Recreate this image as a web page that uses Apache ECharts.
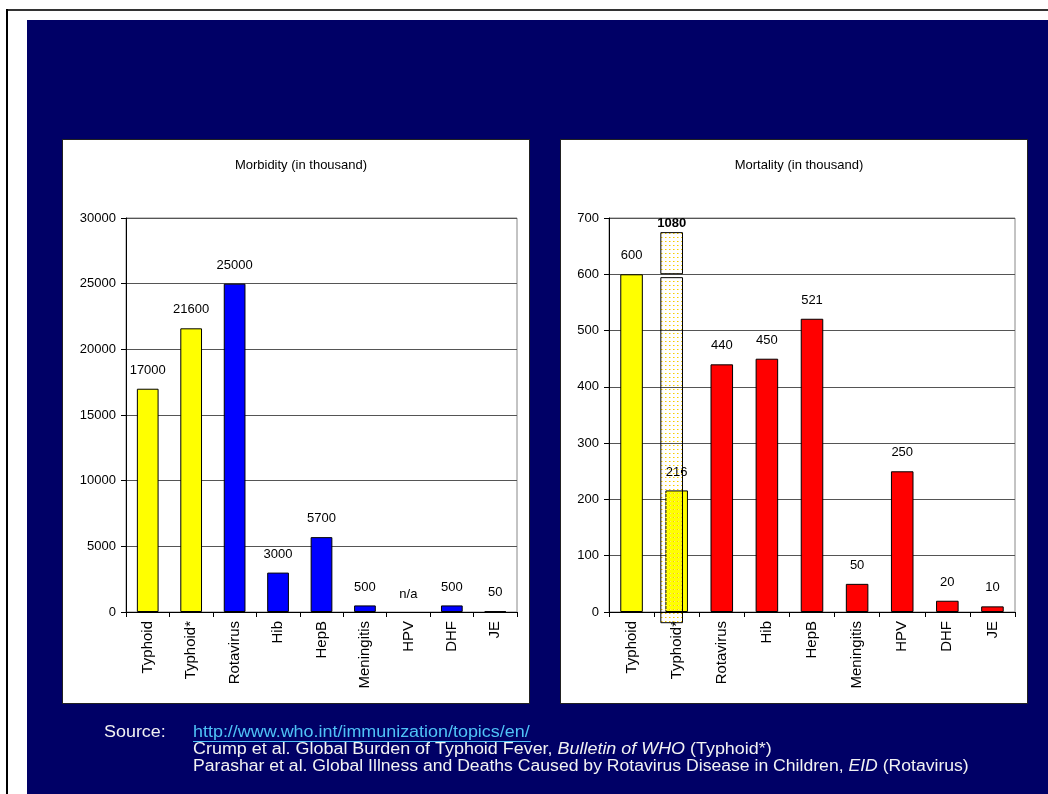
<!DOCTYPE html>
<html>
<head>
<meta charset="utf-8">
<script src="https://cdn.jsdelivr.net/npm/echarts@6/dist/echarts.min.js"></script>
<style>
html, body { margin: 0; padding: 0; background: #fff; }
#page { position: relative; width: 1048px; height: 794px; overflow: hidden; }
.frameTop { position: absolute; left: 6px; top: 9px; width: 1042px; height: 2px; background: #333; }
.frameLeft { position: absolute; left: 6px; top: 9px; width: 2px; height: 785px; background: #000; }
.navy { position: absolute; left: 27px; top: 20px; right: 0; bottom: 0; background: #000066; }
.panel { position: absolute; top: 139px; height: 565px; background: #fff; border: 1px solid #222; box-sizing: border-box; }
#main { position: absolute; left: 0; top: 0; width: 1048px; height: 794px; }
</style>
</head>
<body>
<div id="page">
  <div class="frameTop"></div>
  <div class="frameLeft"></div>
  <div class="navy"></div>
  <div class="panel" style="left:62px;width:468px;"></div>
  <div class="panel" style="left:560px;width:468px;"></div>
  <div id="main"></div>
</div>
<script>
var categories = ['Typhoid', 'Typhoid*', 'Rotavirus', 'Hib', 'HepB', 'Meningitis', 'HPV', 'DHF', 'JE'];
var morbidity = [17000, 21600, 25000, 3000, 5700, 500, null, 500, 50];
var mortality = [600, 216, 440, 450, 521, 50, 250, 20, 10];
var morbidityAxis = [0, 30000, 5000];
var mortalityAxis = [0, 700, 100];
// Typhoid* mortality (1080) is drawn as a broken, dotted bar
var typhoidStarTotal = 1080;
var typhoidStarPieces = [[-19, 594], [601, 674]];
var typhoidCats = ['Typhoid', 'Typhoid*'];

var FONT = 'Liberation Sans, Arial, sans-serif';

var dots = document.createElement('canvas');
dots.width = 4; dots.height = 4;
var dctx = dots.getContext('2d');
dctx.fillStyle = '#f5cc00';
dctx.fillRect(1, 1, 1, 1);
dctx.fillStyle = '#fbe680';
dctx.fillRect(2, 1, 1, 1);

function barData(values, otherColor) {
    return values.map(function (v, i) {
        var color = typhoidCats.indexOf(categories[i]) >= 0 ? '#ffff00' : otherColor;
        if (v === null) {
            return { value: 0, itemStyle: { color: 'transparent', borderWidth: 0 },
                     label: { formatter: 'n/a', distance: 11 } };
        }
        return { value: v, itemStyle: { color: color } };
    });
}

function xAxis(gridIndex) {
    return {
        type: 'category', gridIndex: gridIndex, data: categories,
        axisLine: { lineStyle: { color: '#000', width: 1 } },
        axisTick: { show: true, length: 5, lineStyle: { color: '#000' } },
        axisLabel: { rotate: 90, margin: 9, color: '#000', fontSize: 15, fontFamily: FONT, interval: 0 },
        splitLine: { show: false }
    };
}

function yAxis(gridIndex, range) {
    return {
        type: 'value', gridIndex: gridIndex, min: range[0], max: range[1], interval: range[2],
        axisLine: { show: true, lineStyle: { color: '#000', width: 1 } },
        axisTick: { show: true, length: 5, lineStyle: { color: '#000' } },
        axisLabel: { margin: 10, color: '#000', fontSize: 13, fontFamily: FONT,
                     formatter: function (v) { return String(v); } },
        splitLine: { show: true, lineStyle: { color: '#555', width: 1 } }
    };
}

var barLabel = { show: true, position: 'top', distance: 12, color: '#000', fontSize: 13, fontFamily: FONT };
var barStyle = { borderColor: '#000', borderWidth: 1 };
var srcFont = '16px ' + FONT;
var srcRich = { i: { fontStyle: 'italic', fontSize: 16, fontFamily: FONT, fill: '#f2f2f2' } };

var chart = echarts.init(document.getElementById('main'));
chart.setOption({
    animation: false,
    backgroundColor: 'transparent',
    title: [
        { text: 'Morbidity (in thousand)', left: 296, top: 154, textAlign: 'center',
          textStyle: { fontSize: 13, fontWeight: 'normal', color: '#000', fontFamily: FONT } },
        { text: 'Mortality (in thousand)', left: 794, top: 154, textAlign: 'center',
          textStyle: { fontSize: 13, fontWeight: 'normal', color: '#000', fontFamily: FONT } }
    ],
    grid: [
        { left: 126, top: 218, width: 391, height: 394, show: true, borderColor: '#888', borderWidth: 1, backgroundColor: 'transparent' },
        { left: 609, top: 218, width: 406, height: 394, show: true, borderColor: '#888', borderWidth: 1, backgroundColor: 'transparent' }
    ],
    xAxis: [xAxis(0), xAxis(1)],
    yAxis: [yAxis(0, morbidityAxis), yAxis(1, mortalityAxis)],
    series: [
        {
            type: 'bar', xAxisIndex: 0, yAxisIndex: 0, barWidth: '50%',
            data: barData(morbidity, '#0000ff'), itemStyle: barStyle, label: barLabel
        },
        {
            type: 'bar', xAxisIndex: 1, yAxisIndex: 1, barWidth: '50%',
            data: barData(mortality, '#ff0000'), itemStyle: barStyle, label: barLabel
        },
        {
            type: 'custom', xAxisIndex: 1, yAxisIndex: 1, clip: false, z: 5,
            data: typhoidStarPieces.map(function (p) { return [categories.indexOf('Typhoid*'), p[0], p[1]]; }),
            encode: { x: 0, y: [1, 2] },
            renderItem: function (params, api) {
                var top = api.coord([api.value(0), api.value(2)]);
                var bot = api.coord([api.value(0), api.value(1)]);
                var w = api.size([1, 0])[0] * 0.48;
                var cx = top[0] - 5;
                var kids = [{
                    type: 'rect',
                    shape: { x: cx - w / 2, y: top[1], width: w, height: bot[1] - top[1] },
                    style: { fill: { image: dots, repeat: 'repeat' }, stroke: '#000', lineWidth: 1 }
                }];
                if (params.dataIndex === typhoidStarPieces.length - 1) {
                    kids.push({
                        type: 'text',
                        style: { text: String(typhoidStarTotal), x: cx, y: top[1] - 3, align: 'center',
                                 verticalAlign: 'bottom', font: 'bold 13px ' + FONT, fill: '#000' }
                    });
                }
                return { type: 'group', children: kids };
            }
        }
    ],
    graphic: [
        { type: 'text', x: 104, y: 725, scaleX: 1.12,
          style: { text: 'Source:', font: srcFont, fill: '#f2f2f2' } },
        { type: 'text', x: 193, y: 725, scaleX: 1.12,
          style: { text: 'http://www.who.int/immunization/topics/en/', font: srcFont, fill: '#4fc3f7' } },
        { type: 'line', shape: { x1: 193, y1: 741.5, x2: 531, y2: 741.5 }, style: { stroke: '#4fc3f7', lineWidth: 1 } },
        { type: 'text', x: 193, y: 742, scaleX: 1.12,
          style: { text: 'Crump et al. Global Burden of Typhoid Fever, {i|Bulletin of WHO} (Typhoid*)',
                   font: srcFont, fill: '#f2f2f2', rich: srcRich } },
        { type: 'text', x: 193, y: 759, scaleX: 1.1,
          style: { text: 'Parashar et al. Global Illness and Deaths Caused by Rotavirus Disease in Children, {i|EID} (Rotavirus)',
                   font: srcFont, fill: '#f2f2f2', rich: srcRich } }
    ]
});
</script>
</body>
</html>
